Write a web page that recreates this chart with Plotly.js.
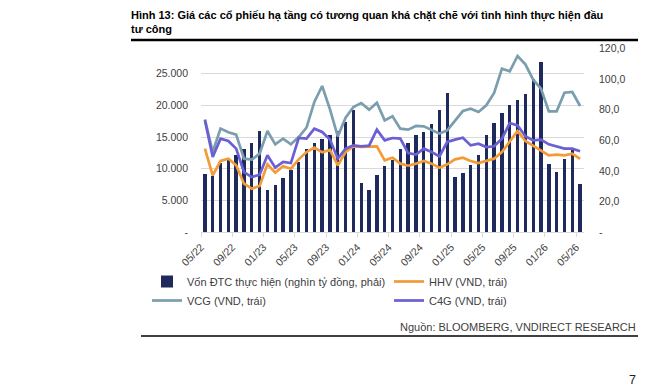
<!DOCTYPE html>
<html>
<head>
<meta charset="utf-8">
<script src="https://cdn.plot.ly/plotly-3.0.1.min.js"></script>
<style>html,body{margin:0;padding:0;background:#fff;}#chart{width:666px;height:387px;}</style>
</head>
<body>
<div id="chart"></div>
<script>
// ---- data ----
const months = ["05/22","06/22","07/22","08/22","09/22","10/22","11/22","12/22",
  "01/23","02/23","03/23","04/23","05/23","06/23","07/23","08/23","09/23","10/23","11/23","12/23",
  "01/24","02/24","03/24","04/24","05/24","06/24","07/24","08/24","09/24","10/24","11/24","12/24",
  "01/25","02/25","03/25","04/25","05/25","06/25","07/25","08/25","09/25","10/25","11/25","12/25",
  "01/26","02/26","03/26","04/26","05/26"];
const tickLabels = ["05/22","09/22","01/23","05/23","09/23","01/24","05/24","09/24","01/25","05/25","09/25","01/26","05/26"];
const vonDTC = [38.3,36.5,45.2,47.0,50.3,54.2,58.6,66.2,27.3,30.8,35.4,40.4,45.9,54.6,58.4,61.0,63.4,66.2,71.9,80.2,32.1,27.3,37.4,43.1,47.0,54.2,58.4,63.2,65.4,70.4,80.2,90.9,36.1,38.7,43.7,50.3,63.6,71.5,77.6,83.1,86.6,90.5,100.1,111.5,44.2,39.3,48.1,53.6,31.3];
const hhv = [13160,8950,11210,11580,10530,7630,6840,7260,10680,9370,10370,10000,11470,12630,13320,12580,12950,10530,12630,13500,13450,13500,13530,11320,11740,10790,10470,10790,11210,10790,10160,10680,11470,11740,11210,10890,11210,11580,12630,14210,15950,14370,13630,12890,12110,12210,12110,12370,11530];
const vcg = [17790,12630,16320,15740,15370,11580,11420,12370,15950,13840,14740,13840,15000,16470,20530,23050,19370,15100,18050,19740,20370,19320,20420,17630,18260,16320,16160,16740,16680,16050,15530,16050,17630,19100,19470,18950,20000,21950,25790,25370,27790,26470,24050,22630,19050,19050,22000,22110,19890];
const c4g = [17630,11840,14740,14370,13160,9470,8680,9050,12110,10160,11050,10890,14840,14740,16320,15790,14600,11580,13160,13680,13530,13630,16160,14470,14840,14740,12470,12210,13160,12630,11950,14210,14580,14890,13680,13950,13420,13530,14740,17210,16840,15110,14470,14580,13840,13530,13160,13160,12740];
const leftTicks = [0,5000,10000,15000,20000,25000];
const leftTickText = ["-","5.000","10.000","15.000","20.000","25.000"];
const rightTicks = [0,20,40,60,80,100,120];
const rightTickText = ["-","20,0","40,0","60,0","80,0","100,0","120,0"];

// ---- layout helpers ----
const W = 666, H = 387, L = 201, R = 82, T = 42, B = 155;
const pw = W - L - R, ph = H - T - B;
const px = x => (x - L) / pw;
const py = y => (H - B - y) / ph;

const idx = months.map((m, i) => i);
const tickIdx = tickLabels.map(t => months.indexOf(t) - 0.5);

const FONT = "Arial, 'Liberation Sans', sans-serif";
const traces = [
  {type:'bar', name:'Vốn ĐTC thực hiện (nghìn tỷ đồng, phải)', x:idx, y:vonDTC, xaxis:'x', yaxis:'y',
   marker:{color:'#1f2a5c'}, width:0.43},
  {type:'scatter', mode:'lines', name:'HHV (VND, trái)', x:idx, y:hhv, xaxis:'x', yaxis:'y2',
   line:{color:'#f39b37', width:2.7}},
  {type:'scatter', mode:'lines', name:'VCG (VND, trái)', x:idx, y:vcg, xaxis:'x', yaxis:'y2',
   line:{color:'#7b9eae', width:2.7}},
  {type:'scatter', mode:'lines', name:'C4G (VND, trái)', x:idx, y:c4g, xaxis:'x', yaxis:'y2',
   line:{color:'#6a5fd3', width:2.7}}
];

const layout = {
  width: W, height: H,
  margin: {l:L, r:R, t:T, b:B, pad:0},
  paper_bgcolor:'#fff', plot_bgcolor:'#fff',
  font: {family: FONT, size: 10.5, color:'#404040'},
  showlegend: true,
  bargap: 0,
  title: {text:'<b>Hình 13: Giá các cổ phiếu hạ tầng có tương quan khá chặt chẽ với tình hình thực hiện đầu<br>tư công</b>',
    xref:'container', yref:'container', x: 131/W, xanchor:'left', y: 1 - 19/H, yanchor:'top',
    font:{family: FONT, size: 11, color:'#000'}},
  xaxis: {range:[-0.5, 48.5], tickvals: tickIdx, ticktext: tickLabels, tickangle:-45,
    showline:true, linecolor:'#d9d9d9', linewidth:1, ticks:'outside', ticklen:4, tickcolor:'#d9d9d9',
    showgrid:false, zeroline:false, tickfont:{size:10.5, color:'#404040'}, fixedrange:true},
  yaxis: {range:[0, 124.4], side:'right', tickvals:rightTicks, ticktext:rightTickText,
    showgrid:false, zeroline:false, showline:false, ticks:'', ticklabelstandoff:14,
    tickfont:{size:10.5, color:'#404040'}},
  yaxis2: {range:[0, 30000], side:'left', overlaying:'y', tickvals:leftTicks, ticktext:leftTickText,
    showgrid:true, gridcolor:'#d9d9d9', gridwidth:1, zeroline:false, showline:false, ticks:'', ticklabelstandoff:12,
    tickfont:{size:10.5, color:'#404040'}},
  legend: {orientation:'h', x: px(147), xanchor:'left', y: py(267), yanchor:'top',
    entrywidth: 197, entrywidthmode:'pixels', font:{size:11, color:'#404040'},
    traceorder:'normal', itemwidth:30, tracegroupgap:0, bgcolor:'rgba(0,0,0,0)'},
  shapes: [
    {type:'line', xref:'paper', yref:'paper', x0:px(131), x1:px(638), y0:py(40), y1:py(40), line:{color:'#000', width:2.5}},
    {type:'line', xref:'paper', yref:'paper', x0:px(141), x1:px(638), y0:py(336), y1:py(336), line:{color:'#000', width:1.5}}
  ],
  annotations: [
    {xref:'paper', yref:'paper', x:px(638), y:py(327), xanchor:'right', yanchor:'middle', showarrow:false,
     text:'Nguồn: BLOOMBERG, VNDIRECT RESEARCH', font:{size:11, color:'#404040'}},
    {xref:'paper', yref:'paper', x:px(638), y:py(380), xanchor:'right', yanchor:'middle', showarrow:false,
     text:'7', font:{size:12.5, color:'#222'}}
  ]
};

Plotly.newPlot('chart', traces, layout, {staticPlot:true, displayModeBar:false});
</script>
</body>
</html>
